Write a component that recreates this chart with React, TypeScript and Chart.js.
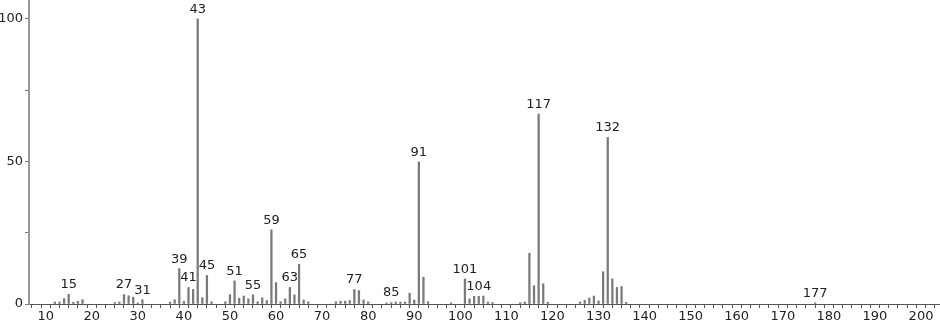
import React, { useEffect, useRef } from "react";
import { Chart, registerables } from "chart.js";

Chart.register(...registerables);

const mzValues: number[] = [
  12, 13, 14, 15, 16, 17, 18, 25, 26, 27, 28, 29, 30, 31, 37, 38, 39, 40, 41, 42,
  43, 44, 45, 46, 49, 50, 51, 52, 53, 54, 55, 56, 57, 58, 59, 60, 61, 62, 63, 64,
  65, 66, 67, 73, 74, 75, 76, 77, 78, 79, 80, 84, 85, 86, 87, 88, 89, 90, 91, 92,
  93, 98, 101, 102, 103, 104, 105, 106, 107, 113, 114, 115, 116, 117, 118, 119,
  126, 127, 128, 129, 130, 131, 132, 133, 134, 135, 136, 177,
];

const intensities: number[] = [
  0.7, 0.7, 1.9, 3.4, 0.6, 0.9, 1.5, 0.5, 0.7, 3.3, 2.9, 2.4, 0.4, 1.5, 0.7, 1.5, 12.4, 0.9, 5.8, 5.1,
  100, 2.2, 10, 0.8, 0.8, 3.3, 8.1, 2, 2.8, 1.8, 3.2, 0.8, 2.2, 1.2, 26, 7.5, 0.8, 1.8, 5.8, 3.2,
  13.9, 1.4, 0.8, 0.8, 1, 1, 1.2, 5.1, 4.7, 1.4, 0.7, 0.4, 0.5, 0.7, 0.7, 0.7, 3.8, 1.4, 49.8, 9.4,
  0.8, 0.4, 8.8, 1.8, 2.7, 2.7, 2.8, 0.7, 0.5, 0.5, 0.7, 17.8, 6.4, 66.6, 7.1, 0.6,
  0.7, 1.3, 2.1, 2.8, 1.1, 11.3, 58.4, 8.8, 5.8, 6.1, 0.6, 0.4,
];

const labeledPeaks: number[] = [
  15, 27, 31, 39, 41, 43, 45, 51, 55, 59, 63, 65, 77, 85, 91, 101, 104, 117, 132, 177,
];

const yLabelTicks: number[] = [0, 50, 100];

const FONT = "'DejaVu Sans', sans-serif";

const peakLabelPlugin = {
  id: "peakLabels",
  afterDatasetsDraw(chart: any) {
    const ctx = chart.ctx;
    const meta = chart.getDatasetMeta(0);
    ctx.save();
    ctx.font = `13px ${FONT}`;
    ctx.fillStyle = "#222";
    ctx.textAlign = "center";
    ctx.textBaseline = "bottom";
    meta.data.forEach((bar: any, i: number) => {
      const m = mzValues[i];
      if (labeledPeaks.includes(m)) {
        ctx.fillText(String(m), bar.x, bar.y - 3);
      }
    });
    ctx.restore();
  },
};

export default function App() {
  const canvasRef = useRef<HTMLCanvasElement | null>(null);

  useEffect(() => {
    if (!canvasRef.current) return;
    const chart = new Chart(canvasRef.current, {
      type: "bar",
      data: {
        datasets: [
          {
            data: mzValues.map((m, i) => ({ x: m, y: intensities[i] })),
            backgroundColor: "#7a7a7a",
            borderWidth: 0,
            barThickness: 1.6,
          },
        ],
      },
      options: {
        animation: false,
        responsive: false,
        layout: { padding: { top: 0, right: 0, left: 0, bottom: -2 } },
        plugins: {
          legend: { display: false },
          tooltip: { enabled: false },
        },
        scales: {
          x: {
            type: "linear",
            min: 6.38,
            max: 204.12,
            offset: false,
            afterFit: (scale: any) => {
              scale.height = 22;
              scale.paddingLeft = 0;
              scale.paddingRight = 0;
              scale.paddingTop = 0;
              scale.paddingBottom = 0;
            },
            border: { display: true, color: "#555", width: 1 },
            grid: {
              display: true,
              drawOnChartArea: false,
              drawTicks: true,
              tickLength: 4,
              color: "#555",
            },
            ticks: {
              stepSize: 2,
              includeBounds: false,
              autoSkip: false,
              maxRotation: 0,
              padding: 1,
              color: "#222",
              font: { family: FONT, size: 13 },
              callback: (v: any) => (Number(v) % 10 === 0 ? String(v) : ""),
            },
          },
          y: {
            min: 0,
            max: 106.6,
            afterFit: (scale: any) => {
              scale.width = 29;
              scale.paddingTop = 0;
              scale.paddingBottom = 0;
              scale.paddingLeft = 0;
              scale.paddingRight = 0;
            },
            border: { display: true, color: "#999", width: 2 },
            grid: {
              display: true,
              drawOnChartArea: false,
              drawTicks: true,
              tickLength: 4,
              color: "#777",
            },
            ticks: {
              stepSize: 25,
              includeBounds: false,
              padding: 2,
              color: "#222",
              font: { family: FONT, size: 13 },
              callback: (v: any) => (yLabelTicks.includes(Number(v)) ? String(v) : ""),
            },
          },
        },
      },
      plugins: [peakLabelPlugin],
    });
    return () => chart.destroy();
  }, []);

  return (
    <div style={{ position: "fixed", left: 0, top: 0, width: 940, height: 324, background: "#fff" }}>
      <canvas ref={canvasRef} width={940} height={324} />
    </div>
  );
}
